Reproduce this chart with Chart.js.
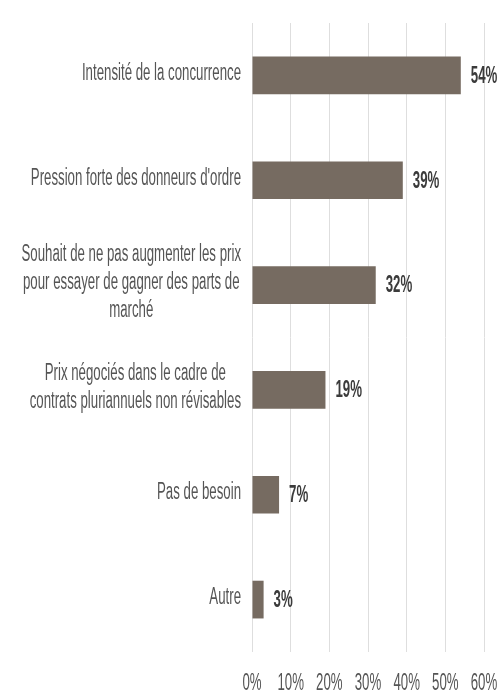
<!DOCTYPE html>
<html>
<head>
<meta charset="utf-8">
<script src="https://cdn.jsdelivr.net/npm/chart.js@4/dist/chart.umd.min.js"></script>
<style>
  html, body { margin: 0; padding: 0; background: #fff; }
  canvas { display: block; }
</style>
</head>
<body>
<canvas id="raisons" width="498" height="694"></canvas>
<script>
// libellés (plusieurs lignes) et pourcentages
var categories = [
    ['Intensité de la concurrence'],
    ['Pression forte des donneurs d\'ordre'],
    ['Souhait de ne pas augmenter les prix', 'pour essayer de gagner des parts de', 'marché'],
    ['Prix négociés dans le cadre de', 'contrats pluriannuels non révisables'],
    ['Pas de besoin'],
    ['Autre']
];
var valeurs = [54, 39, 32, 19, 7, 3];
var valeursTexte = ['54%', '39%', '32%', '19%', '7%', '3%'];
var ticksX = [0, 10, 20, 30, 40, 50, 60];

var barColor = 'rgb(118, 107, 97)';
var FONT = '"Liberation Sans", Arial, sans-serif';
var SX = 0.576; // texte étroit, comme sur l'image

function texte(ctx, str, x, y, align, font, color) {
    ctx.save();
    ctx.font = font;
    ctx.fillStyle = color;
    ctx.textBaseline = 'middle';
    ctx.textAlign = align;
    ctx.translate(x, y);
    ctx.scale(SX, 1);
    ctx.fillText(str, 0, 0);
    ctx.restore();
}

var textesPlugin = {
    id: 'textes',
    afterDraw: function (chart) {
        var ctx = chart.ctx;
        var xs = chart.scales.x;
        var ys = chart.scales.y;
        var area = chart.chartArea;

        // libellés de l'axe vertical, bloc centré et aligné à droite
        var fLab = '23px ' + FONT;
        ctx.font = fLab;
        categories.forEach(function (lignes, i) {
            var yc = ys.getPixelForValue(i) - 2;
            var w = 0;
            lignes.forEach(function (l) { w = Math.max(w, ctx.measureText(l).width * SX); });
            var cx = area.left - 11 - w / 2;
            var pas = 28;
            var y0 = yc - (lignes.length - 1) * pas / 2;
            lignes.forEach(function (l, k) {
                texte(ctx, l, cx, y0 + k * pas, 'center', fLab, '#555555');
                ctx.font = fLab;
            });
        });

        // valeurs au bout des barres
        var meta = chart.getDatasetMeta(0);
        meta.data.forEach(function (bar, i) {
            texte(ctx, valeursTexte[i], bar.x + 10, bar.y + 1, 'left', 'bold 23px ' + FONT, '#3b3b3b');
        });

        // graduations de l'axe horizontal
        ticksX.forEach(function (t) {
            texte(ctx, t + '%', xs.getPixelForValue(t), area.bottom + 32, 'center', '23px ' + FONT, '#555555');
        });
    }
};

var chart = new Chart(document.getElementById('raisons'), {
    type: 'bar',
    data: {
        labels: categories,
        datasets: [{
            data: valeurs,
            backgroundColor: barColor,
            borderWidth: 0,
            barPercentage: 0.6,
            categoryPercentage: 0.6
        }]
    },
    options: {
        indexAxis: 'y',
        responsive: false,
        animation: false,
        layout: {
            padding: { left: 252, right: 14, top: 23, bottom: 42 }
        },
        plugins: {
            legend: { display: false },
            tooltip: { enabled: false }
        },
        scales: {
            x: {
                min: 0,
                max: 60,
                ticks: { display: false, stepSize: 10 },
                grid: { color: '#dedede', lineWidth: 1, drawTicks: false },
                border: { display: false }
            },
            y: {
                display: false
            }
        }
    },
    plugins: [textesPlugin]
});
</script>
</body>
</html>
